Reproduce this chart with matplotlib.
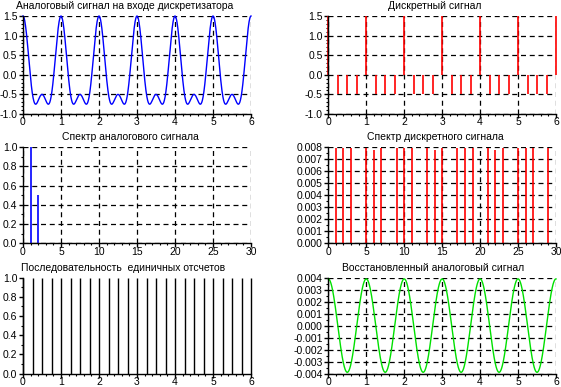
import numpy as np
import matplotlib
matplotlib.use("Agg")
import matplotlib.pyplot as plt
from matplotlib.ticker import MultipleLocator, AutoMinorLocator, FormatStrFormatter

plt.rcParams['font.family'] = ['Liberation Sans', 'DejaVu Sans']

# ---- data ----
titles = ["Аналоговый сигнал на входе дискретизатора",
          "Дискретный сигнал",
          "Спектр аналогового сигнала",
          "Спектр дискретного сигнала",
          "Последовательность  единичных отсчетов",
          "Восстановленный аналоговый сигнал"]

# analog signal components
analog_freqs = [1, 2]
analog_amps = [1.0, 0.5]

# discrete samples (every 0.25 s)
sample_times = [0.0, 0.25, 0.5, 0.75, 1.0, 1.25, 1.5, 1.75, 2.0, 2.25, 2.5, 2.75,
                3.0, 3.25, 3.5, 3.75, 4.0, 4.25, 4.5, 4.75, 5.0, 5.25, 5.5, 5.75, 6.0]
sample_values = [1.5, -0.5, -0.5, -0.5, 1.5, -0.5, -0.5, -0.5, 1.5, -0.5, -0.5, -0.5,
                 1.5, -0.5, -0.5, -0.5, 1.5, -0.5, -0.5, -0.5, 1.5, -0.5, -0.5, -0.5, 1.5]

# discrete spectrum
disc_freqs = [1, 2, 3, 5, 6, 7, 9, 10, 11, 13, 14, 15, 17, 18, 19, 21, 22, 23, 25, 26, 27, 29]
disc_amps = [0.0079, 0.0079, 0.0079, 0.0079, 0.00775, 0.0079, 0.0079, 0.0079, 0.0079,
             0.0079, 0.00775, 0.0079, 0.0079, 0.0079, 0.0079, 0.0079, 0.00775, 0.0079,
             0.0079, 0.0079, 0.0079, 0.0079]

# unit impulse train
impulse_times = sample_times
impulse_values = [1.0] * len(sample_times)

# reconstructed signal component
recon_freqs = [1]
recon_amps = [0.0039]

# ---- figure ----
W, H = 561, 387
fig = plt.figure(figsize=(W / 100, H / 100), dpi=100)

def ax_px(x0, x1, ytop, ybot):
    return fig.add_axes([x0 / W, 1 - ybot / H, (x1 - x0) / W, (ybot - ytop) / H])

LX0, LX1 = 23, 251
RX0, RX1 = 328.3, 556
rows = [(16, 114), (147, 243.3), (277.7, 373.5)]

axes = [ax_px(LX0, LX1, *rows[0]), ax_px(RX0, RX1, *rows[0]),
        ax_px(LX0, LX1, *rows[1]), ax_px(RX0, RX1, *rows[1]),
        ax_px(LX0, LX1, *rows[2]), ax_px(RX0, RX1, *rows[2])]

FS = 7.5

def style(ax, xlim, ylim, xmaj, ymaj, xminor, yminor, yfmt, grid=True):
    ax.set_xlim(*xlim)
    ax.set_ylim(*ylim)
    ax.xaxis.set_major_locator(MultipleLocator(xmaj))
    ax.yaxis.set_major_locator(MultipleLocator(ymaj))
    ax.xaxis.set_minor_locator(AutoMinorLocator(xminor))
    ax.yaxis.set_minor_locator(AutoMinorLocator(yminor))
    ax.yaxis.set_major_formatter(FormatStrFormatter(yfmt))
    ax.xaxis.set_major_formatter(FormatStrFormatter('%d'))
    for s in ('top', 'right'):
        ax.spines[s].set_visible(False)
    for s in ('left', 'bottom'):
        ax.spines[s].set_linewidth(1.0)
    ax.tick_params(which='major', direction='out', length=3, width=1, labelsize=FS)
    ax.tick_params(axis='x', which='major', pad=-0.5)
    ax.tick_params(axis='y', which='major', pad=1)
    ax.tick_params(which='minor', direction='out', length=1.5, width=0.8)
    if grid:
        ax.grid(True, which='major', color='black', linestyle=(0, (4, 3)), linewidth=0.9)
        ax.set_axisbelow(True)
    ax.patch.set_alpha(0)

def title(ax, text, x=None, ha='center'):
    pos = ax.get_position()
    if x is None:
        xx = pos.x0 + pos.width / 2
    else:
        xx = x / W
    fig.text(xx, pos.y1 + 0.012, text, ha=ha, va='bottom', fontsize=FS)

# 1: analog signal
t = np.linspace(0, 6, 1201)
sig = np.zeros_like(t)
for f, a in zip(analog_freqs, analog_amps):
    sig += a * np.cos(2 * np.pi * f * t)
ax = axes[0]
ax.plot(t, sig, color='#0000ff', linewidth=1.0, clip_on=False)
style(ax, (0, 6), (-1, 1.5), 1, 0.5, 5, 5, '%.1f')
title(ax, titles[0], x=125)

# 2: discrete signal
ax = axes[1]
ax.vlines(sample_times, 0, sample_values, color='#ff0000', linewidth=1.2, clip_on=False)
style(ax, (0, 6), (-1, 1.5), 1, 0.5, 5, 5, '%.1f')
title(ax, titles[1], x=435)

# 3: analog spectrum
ax = axes[2]
ax.vlines(analog_freqs, 0, analog_amps, color='#0000ff', linewidth=1.2, clip_on=False)
style(ax, (0, 30), (0, 1.0), 5, 0.2, 5, 2, '%.1f')
title(ax, titles[2], x=130)

# 4: discrete spectrum
ax = axes[3]
ax.vlines(disc_freqs, 0, disc_amps, color='#ff0000', linewidth=1.2, clip_on=False)
style(ax, (0, 30), (0, 0.008), 5, 0.001, 5, 2, '%.3f')
title(ax, titles[3], x=435)

# 5: unit impulses
ax = axes[4]
ax.vlines(impulse_times, 0, impulse_values, color='black', linewidth=1.0, clip_on=False)
style(ax, (0, 6), (0, 1.0), 1, 0.2, 5, 2, '%.1f', grid=False)
title(ax, titles[4], x=21, ha='left')

# 6: reconstructed signal
rec = np.zeros_like(t)
for f, a in zip(recon_freqs, recon_amps):
    rec += a * np.cos(2 * np.pi * f * t)
ax = axes[5]
ax.plot(t, rec, color='#00e000', linewidth=1.0, clip_on=False)
style(ax, (0, 6), (-0.004, 0.004), 1, 0.001, 5, 2, '%.3f')
title(ax, titles[5], x=433)

fig.savefig('out.png', dpi=100)
